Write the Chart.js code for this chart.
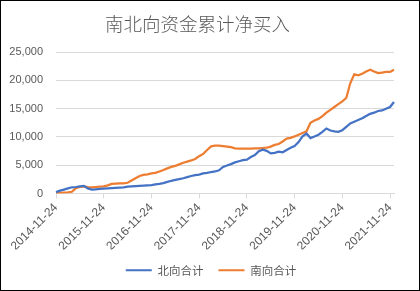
<!DOCTYPE html>
<html>
<head>
<meta charset="utf-8">
<script src="https://cdn.jsdelivr.net/npm/chart.js@4/dist/chart.umd.min.js"></script>
<style>
  html, body { margin: 0; padding: 0; background: #fff; }
  #wrap { width: 420px; height: 291px; box-sizing: border-box; border: 1px solid #000; }
  canvas { display: block; }
</style>
</head>
<body>
<div id="wrap"><canvas id="c" width="418" height="289"></canvas></div>
<script>
  // un point par mois (le 24), de 2014-11 à 2021-12
  const mois = [
    "2014-11","2014-12",
    "2015-01","2015-02","2015-03","2015-04","2015-05","2015-06","2015-07","2015-08","2015-09","2015-10","2015-11","2015-12",
    "2016-01","2016-02","2016-03","2016-04","2016-05","2016-06","2016-07","2016-08","2016-09","2016-10","2016-11","2016-12",
    "2017-01","2017-02","2017-03","2017-04","2017-05","2017-06","2017-07","2017-08","2017-09","2017-10","2017-11","2017-12",
    "2018-01","2018-02","2018-03","2018-04","2018-05","2018-06","2018-07","2018-08","2018-09","2018-10","2018-11","2018-12",
    "2019-01","2019-02","2019-03","2019-04","2019-05","2019-06","2019-07","2019-08","2019-09","2019-10","2019-11","2019-12",
    "2020-01","2020-02","2020-03","2020-04","2020-05","2020-06","2020-07","2020-08","2020-09","2020-10","2020-11","2020-12",
    "2021-01","2021-02","2021-03","2021-04","2021-05","2021-06","2021-07","2021-08","2021-09","2021-10","2021-11","2021-12"
  ];

  const nordValeurs = [
    250, 500,
    700, 900, 1100, 1150, 1250, 1350, 900, 700, 750, 800, 850, 900,
    950, 1000, 1050, 1100, 1200, 1250, 1300, 1350, 1400, 1450, 1500, 1600,
    1700, 1850, 2050, 2250, 2400, 2550, 2700, 2900, 3100, 3250, 3350, 3550,
    3650, 3800, 3900, 4100, 4700, 4950, 5200, 5500, 5700, 5900, 6000, 6450,
    6800, 7500, 7750, 7550, 7100, 7200, 7400, 7300, 7700, 8100, 8400, 9100,
    10100, 10600, 9800, 10100, 10400, 10900, 11500, 11150, 11000, 10900, 11200, 11800,
    12400, 12700, 13000, 13300, 13700, 14100, 14300, 14600, 14700, 15000, 15300, 16200
  ];

  const sudValeurs = [
    50, 100,
    150, 200, 300, 950, 1150, 1250, 1150, 1100, 1150, 1200, 1250, 1450,
    1700, 1750, 1800, 1800, 1900, 2300, 2700, 3100, 3300, 3400, 3550, 3650,
    3900, 4150, 4450, 4700, 4900, 5150, 5450, 5650, 5850, 6100, 6600, 7000,
    7700, 8350, 8450, 8450, 8400, 8300, 8200, 8000, 7950, 7950, 7950, 7950,
    8000, 8000, 8050, 8100, 8300, 8600, 8750, 9200, 9700, 9850, 10100, 10400,
    10700, 11000, 12500, 12900, 13200, 13700, 14300, 14800, 15300, 15800, 16300, 16900,
    19500, 21100, 20900, 21200, 21600, 21900, 21600, 21300, 21400, 21500, 21500, 21900
  ];

  const yTicks = [0, 5000, 10000, 15000, 20000, 25000];

  const gris = "#595959";
  const ligne = "#d9d9d9";

  // recentre la légende sous la zone de tracé
  const legendeCentree = {
    id: "legendeCentree",
    afterLayout(chart) {
      chart.legend.left = 26;
      chart.legend.right = chart.chartArea.right + 1;
    }
  };

  new Chart(document.getElementById("c"), {
    type: "line",
    data: {
      labels: mois,
      datasets: [
        { label: "北向合计", data: nordValeurs, borderColor: "#4472C4", backgroundColor: "#4472C4",
          borderWidth: 2.25, pointRadius: 0, tension: 0 },
        { label: "南向合计", data: sudValeurs, borderColor: "#ED7D31", backgroundColor: "#ED7D31",
          borderWidth: 2.25, pointRadius: 0, tension: 0 }
      ]
    },
    plugins: [legendeCentree],
    options: {
      responsive: false,
      animation: false,
      layout: { padding: { left: 0, right: 25, top: 4, bottom: 4 } },
      plugins: {
        title: {
          display: true,
          text: "南北向资金累计净买入",
          color: gris,
          font: { family: "Noto Sans CJK SC", size: 18.5, weight: 300 },
          padding: { top: 8, bottom: 17 }
        },
        legend: {
          position: "bottom",
          labels: {
            color: gris,
            font: { family: "Noto Sans CJK SC", size: 11.5 },
            boxWidth: 26,
            boxHeight: 2,
            padding: 15,
            generateLabels(chart) {
              return chart.data.datasets.map((d, i) => ({
                text: d.label,
                fillStyle: d.borderColor,
                strokeStyle: d.borderColor,
                lineWidth: 0,
                fontColor: gris,
                datasetIndex: i
              }));
            }
          }
        },
        tooltip: { enabled: false }
      },
      scales: {
        x: {
          afterBuildTicks(scale) {
            scale.ticks = scale.ticks.filter(t => mois[t.value].endsWith("-11"));
          },
          afterFit(scale) { scale.height = 56; },
          ticks: {
            autoSkip: false,
            maxRotation: 45,
            minRotation: 45,
            color: gris,
            font: { family: "Liberation Sans", size: 12 },
            padding: 2,
            callback(value) { return mois[value] + "-24"; }
          },
          grid: { display: true, drawOnChartArea: false, drawTicks: true, tickLength: 5, color: ligne },
          border: { color: ligne, width: 1 }
        },
        y: {
          min: 0,
          max: 25000,
          afterBuildTicks(scale) { scale.ticks = yTicks.map(v => ({ value: v })); },
          afterFit(scale) { scale.width = 55; },
          ticks: {
            color: gris,
            font: { family: "Liberation Sans", size: 11 },
            padding: 13,
            callback(value) { return value.toLocaleString("en-US"); }
          },
          grid: { color: ligne, drawTicks: false },
          border: { display: false }
        }
      }
    }
  });
</script>
</body>
</html>
